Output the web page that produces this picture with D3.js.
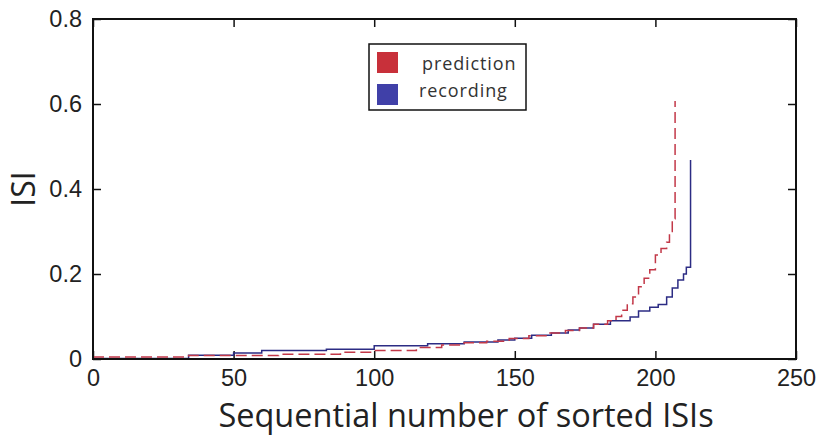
<!DOCTYPE html>
<html>
<head>
<meta charset="utf-8">
<script src="https://cdn.jsdelivr.net/npm/d3@7"></script>
<style>
  body { margin: 0; background: #fff; }
  svg { display: block; }
</style>
</head>
<body>
<div class="isi-plot"></div>
<script>
const predIdx = [0, 34, 50, 66, 88, 100, 115, 124, 132, 140, 148, 155, 162, 168, 173, 178, 183, 186, 188, 190, 192, 194, 196, 198, 200, 202, 204, 205, 206, 207];
const predVal = [0.005, 0.008, 0.008, 0.011, 0.016, 0.02, 0.027, 0.033, 0.038, 0.042, 0.048, 0.055, 0.061, 0.067, 0.073, 0.082, 0.09, 0.1, 0.115, 0.13, 0.146, 0.17, 0.19, 0.21, 0.245, 0.26, 0.275, 0.3, 0.33, 0.607];

const recIdx = [0, 34, 50, 60, 83, 100, 119, 132, 144, 150, 156, 163, 169, 173, 178, 184, 191, 194, 198, 201, 204, 206, 208, 210, 211, 212.5];
const recVal = [0.001, 0.009, 0.014, 0.02, 0.023, 0.031, 0.036, 0.04, 0.045, 0.049, 0.056, 0.061, 0.068, 0.073, 0.082, 0.09, 0.099, 0.113, 0.122, 0.128, 0.146, 0.167, 0.186, 0.2, 0.216, 0.468];

const xTicks = [0, 50, 100, 150, 200, 250];
const yTicks = [0, 0.2, 0.4, 0.6, 0.8];
const seriesNames = ["prediction", "recording"];
const seriesColors = ["#c23848", "#2c2c84"];

// set the dimensions and margins of the graph
const margin = { top: 19, right: 23, bottom: 82, left: 93 },
  width = 819 - margin.left - margin.right,
  height = 441 - margin.top - margin.bottom;

const svg = d3.select(".isi-plot")
  .append("svg")
  .attr("width", 819)
  .attr("height", 441)
  .append("g")
  .attr("transform", `translate(${margin.left}, ${margin.top})`);

const x = d3.scaleLinear().domain([0, 250]).range([0, width]);
const y = d3.scaleLinear().domain([0, 0.8]).range([height, 0]);

const tickFont = "'Liberation Sans', Arial, sans-serif";
const tickLen = 8;

// axes, ticks pointing inwards like matlab
svg.append("g")
  .attr("transform", `translate(0, ${height})`)
  .call(d3.axisBottom(x).tickValues(xTicks).tickSize(-tickLen).tickPadding(tickLen + 2).tickFormat(d3.format("d")))
  .call(g => g.select(".domain").remove())
  .style("font-family", tickFont).style("font-size", "23.5px");
svg.append("g")
  .call(d3.axisLeft(y).tickValues(yTicks).tickSize(-tickLen).tickPadding(tickLen + 3).tickFormat(d => d === 0 ? "0" : d3.format(".1f")(d)))
  .call(g => g.select(".domain").remove())
  .style("font-family", tickFont).style("font-size", "23.5px");
svg.append("g")
  .call(d3.axisTop(x).tickValues(xTicks).tickSize(-tickLen).tickFormat(""))
  .call(g => g.select(".domain").remove());
svg.append("g")
  .attr("transform", `translate(${width}, 0)`)
  .call(d3.axisRight(y).tickValues(yTicks).tickSize(-tickLen).tickFormat(""))
  .call(g => g.select(".domain").remove());
svg.selectAll(".tick line").attr("stroke", "#111").attr("stroke-width", 1.5);
svg.selectAll(".tick text").attr("fill", "#222");

// data lines
const line = d3.line()
  .curve(d3.curveStepAfter)
  .x(d => x(d[0]))
  .y(d => y(d[1]));

svg.append("path")
  .datum(recIdx.map((v, i) => [v, recVal[i]]))
  .attr("fill", "none")
  .attr("stroke", seriesColors[1])
  .attr("stroke-width", 1.5)
  .attr("d", line);

svg.append("path")
  .datum(predIdx.map((v, i) => [v, predVal[i]]))
  .attr("fill", "none")
  .attr("stroke", seriesColors[0])
  .attr("stroke-width", 1.5)
  .attr("stroke-dasharray", "11,5")
  .attr("d", line);

// box
svg.append("rect")
  .attr("width", width).attr("height", height)
  .attr("fill", "none").attr("stroke", "#111").attr("stroke-width", 2);

// axis labels
svg.append("text")
  .attr("x", 466 - margin.left)
  .attr("y", height + 68)
  .attr("text-anchor", "middle")
  .style("font-family", "'Open Sans', sans-serif")
  .style("font-size", "32.5px")
  .attr("fill", "#222")
  .text("Sequential number of sorted ISIs");

svg.append("text")
  .attr("transform", `translate(${-58}, ${y(0.4)}) rotate(-90)`)
  .attr("text-anchor", "middle")
  .style("font-family", "'Open Sans', sans-serif")
  .style("font-size", "32px")
  .attr("fill", "#222")
  .text("ISI");

// legend
const legend = svg.append("g").attr("transform", `translate(${369 - margin.left}, ${44 - margin.top})`);
legend.append("rect")
  .attr("width", 157).attr("height", 66)
  .attr("fill", "#fff").attr("stroke", "#111").attr("stroke-width", 1.5);
seriesNames.forEach((name, i) => {
  legend.append("rect")
    .attr("x", 8).attr("y", 8 + i * 32)
    .attr("width", 21).attr("height", 21)
    .attr("fill", i === 0 ? "#c8303a" : "#4040a8");
  legend.append("text")
    .attr("x", i === 0 ? 53 : 50).attr("y", 26 + i * 27)
    .style("font-family", "'Open Sans', sans-serif")
    .style("font-size", "18px")
    .style("letter-spacing", "0.9px")
    .attr("fill", "#333")
    .text(name);
});
</script>
</body>
</html>
